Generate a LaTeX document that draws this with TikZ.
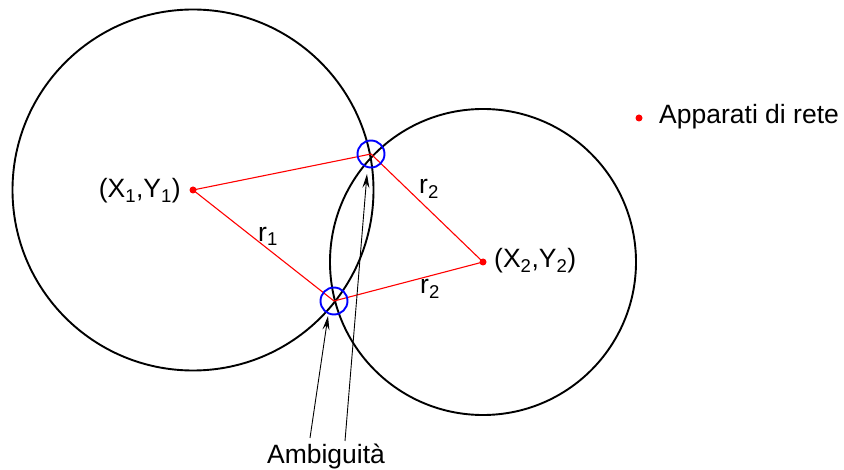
\documentclass[tikz,border=0pt]{standalone}
\usepackage{fontspec}
\setmainfont{Liberation Sans}
\usetikzlibrary{arrows.meta}
\begin{document}
\begin{tikzpicture}[x=1pt,y=-1pt,
  reddot/.style={circle,fill=red,inner sep=0pt,minimum size=7pt},
  ringline/.style={draw=black,line width=1.9pt},
  redlink/.style={draw=red,line width=1.1pt},
  ambig/.style={circle,draw=blue,line width=1.9pt,inner sep=0pt,minimum size=27pt},
  pointer/.style={draw=black,line width=0.9pt,-{Stealth[length=14pt,width=7pt,inset=5pt]}},
  lbl/.style={font=\fontsize{26.5}{31}\selectfont,inner sep=0pt}]
\useasboundingbox (0,0) rectangle (844,470);
% circles
\draw[ringline] (193,190) circle[radius=180.5];
\draw[ringline] (483,262) circle[radius=153];
% nodes
\coordinate (p1) at (371,154);
\coordinate (p2) at (334,301);
\node[reddot] (c1) at (193,190) {};
\node[reddot] (c2) at (483,262) {};
% red links
\draw[redlink] (c1.center) -- (p1) -- (c2.center) -- (p2) -- (c1.center);
% ambiguity circles
\node[ambig] (b1) at (p1) {};
\node[ambig] (b2) at (p2) {};
% arrows
\coordinate (a1) at (310,438);
\coordinate (a2) at (345,441);
\coordinate (t1) at (367,174);
\coordinate (t2) at (328,316);
\draw[pointer] (a1) -- (t2);
\draw[pointer] (a2) -- (t1);
% labels
\node[lbl,anchor=east] (l1) at (181,191) {(X\textsubscript{1},Y\textsubscript{1})};
\node[lbl,anchor=west] (l2) at (494,261) {(X\textsubscript{2},Y\textsubscript{2})};
\node[lbl] (r1) at (268,236) {r\textsubscript{1}};
\node[lbl] (r2a) at (429,189) {r\textsubscript{2}};
\node[lbl] (r2b) at (430,289) {r\textsubscript{2}};
\node[lbl] (amb) at (326,456) {Ambiguità};
% legend
\node[reddot] (ld) at (639,118) {};
\node[lbl,anchor=west] (lt) at (659,117) {Apparati di rete};
\end{tikzpicture}
\end{document}
